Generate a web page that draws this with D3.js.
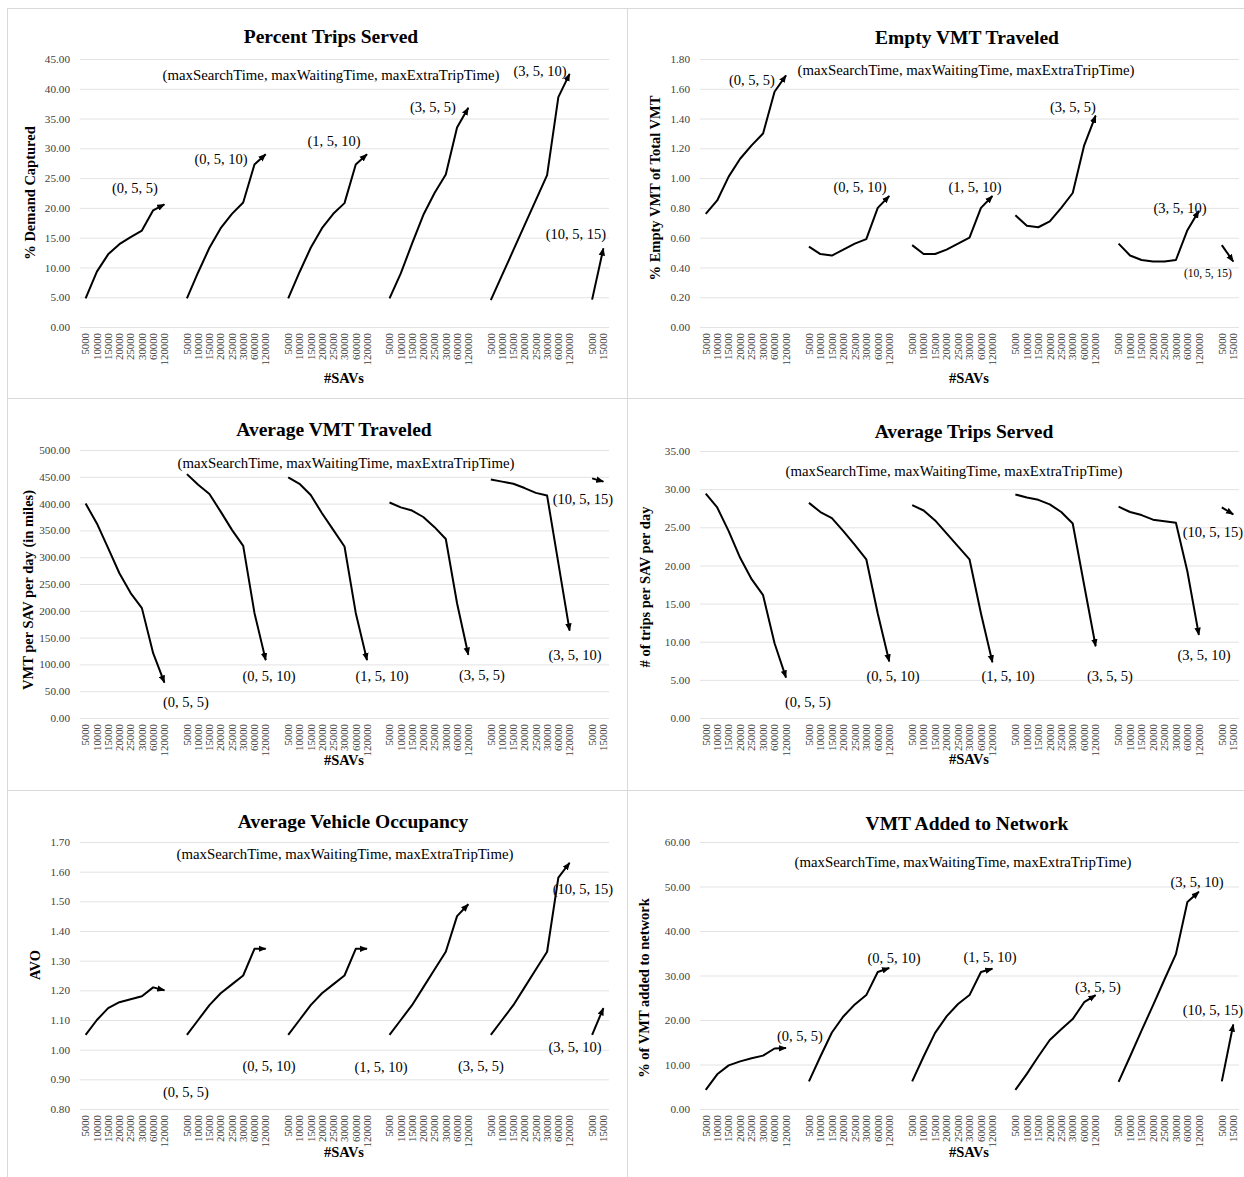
<!DOCTYPE html>
<html lang="en">
<head>
<meta charset="UTF-8" />
<title>SAV fleet results</title>
<script src="https://d3js.org/d3.v7.min.js"></script>
<style>
  body { margin: 0; background: #fff; }
  svg text { font-family: "Liberation Serif", "Times New Roman", serif; }
</style>
</head>
<body>
<svg width="1244" height="1177"></svg>
<script>
// ---- data ----
const savCounts = ["5000", "10000", "15000", "20000", "25000", "30000", "60000", "120000"];
const lastCounts = ["5000", "15000"];
const settings = ["(0, 5, 5)", "(0, 5, 10)", "(1, 5, 10)", "(3, 5, 5)", "(3, 5, 10)", "(10, 5, 15)"];

const pctTripsServed = [
  [4.8, 9.3, 12.2, 13.9, 15.1, 16.2, 19.6, 20.6],
  [4.8, 9.2, 13.3, 16.6, 19.0, 20.9, 27.3, 29.0],
  [4.8, 9.2, 13.3, 16.6, 19.0, 20.8, 27.3, 29.0],
  [4.8, 9.0, 14.0, 18.8, 22.5, 25.6, 33.5, 36.8],
  [4.5, 8.7, 12.9, 17.1, 21.3, 25.5, 38.6, 42.5],
  [4.6, 13.2]
];
const emptyVMT = [
  [0.76, 0.85, 1.01, 1.13, 1.22, 1.30, 1.58, 1.69],
  [0.54, 0.49, 0.48, 0.52, 0.56, 0.59, 0.80, 0.88],
  [0.55, 0.49, 0.49, 0.52, 0.56, 0.60, 0.80, 0.88],
  [0.75, 0.68, 0.67, 0.71, 0.80, 0.90, 1.22, 1.42],
  [0.56, 0.48, 0.45, 0.44, 0.44, 0.45, 0.65, 0.78],
  [0.55, 0.44]
];
const avgVMT = [
  [400, 363, 317, 270, 233, 205, 121, 66],
  [455, 435, 418, 385, 351, 321, 196, 108],
  [449, 437, 416, 382, 351, 320, 196, 108],
  [402, 393, 387, 375, 356, 334, 214, 118],
  [445, 441, 437, 429, 420, 415, 289, 163],
  [447, 441]
];
const avgTrips = [
  [29.4, 27.6, 24.5, 21.0, 18.2, 16.1, 9.8, 5.3],
  [28.2, 27.0, 26.2, 24.5, 22.7, 20.8, 13.7, 7.4],
  [27.9, 27.2, 25.9, 24.2, 22.5, 20.8, 13.7, 7.3],
  [29.3, 28.9, 28.6, 28.0, 27.0, 25.5, 17.4, 9.4],
  [27.7, 27.0, 26.6, 26.0, 25.8, 25.6, 19.2, 10.9],
  [27.6, 26.7]
];
const avo = [
  [1.05, 1.10, 1.14, 1.16, 1.17, 1.18, 1.21, 1.20],
  [1.05, 1.10, 1.15, 1.19, 1.22, 1.25, 1.34, 1.34],
  [1.05, 1.10, 1.15, 1.19, 1.22, 1.25, 1.34, 1.34],
  [1.05, 1.10, 1.15, 1.21, 1.27, 1.33, 1.45, 1.49],
  [1.05, 1.10, 1.15, 1.21, 1.27, 1.33, 1.58, 1.63],
  [1.05, 1.14]
];
const vmtAdded = [
  [4.3, 7.8, 9.8, 10.7, 11.4, 12.0, 13.6, 13.7],
  [6.2, 11.8, 17.2, 20.8, 23.5, 25.6, 30.8, 31.7],
  [6.2, 11.8, 17.1, 20.8, 23.6, 25.6, 30.8, 31.5],
  [4.3, 7.9, 11.8, 15.5, 17.9, 20.2, 24.0, 25.6],
  [6.1, 11.8, 17.6, 23.3, 29.1, 34.8, 46.5, 48.8],
  [6.2, 19.0]
];

const subtitle = "(maxSearchTime, maxWaitingTime, maxExtraTripTime)";

// category slots: each group of SAV counts, one blank slot between groups
let cats = [];
settings.forEach((s, g) => {
  let counts = g < 5 ? savCounts : lastCounts;
  counts.forEach(c => cats.push({ key: g + "-" + c, label: c }));
  if (g < 5) cats.push({ key: "gap" + g, label: "" });
});
let catLabel = {};
cats.forEach(c => (catLabel[c.key] = c.label));

// ---- layout ----
const panels = [
  { title: "Percent Trips Served", yTitle: "% Demand Captured", data: pctTripsServed,
    domain: [0, 45], step: 5, box: [7, 8, 620, 390], plot: [80, 609, 59, 327],
    titlePos: [331, 43], subPos: [331, 80], yTitlePos: [35, 193], xTitlePos: [344, 383],
    notes: [[0, 135, 193], [1, 221, 164], [2, 334, 146], [3, 433, 112], [4, 540, 76], [5, 576, 239]] },
  { title: "Empty VMT Traveled", yTitle: "% Empty VMT of Total VMT", data: emptyVMT,
    domain: [0, 1.8], step: 0.2, box: [627, 8, 617, 390], plot: [700, 1239, 59, 327],
    titlePos: [967, 44], subPos: [966, 75], yTitlePos: [660, 188], xTitlePos: [969, 383],
    notes: [[0, 752, 85], [1, 860, 192], [2, 975, 192], [3, 1073, 112], [4, 1180, 213], [5, 1208, 277, 11.5]] },
  { title: "Average VMT Traveled", yTitle: "VMT  per SAV per day (in miles)", data: avgVMT,
    domain: [0, 500], step: 50, box: [7, 398, 620, 392], plot: [80, 609, 450, 718],
    titlePos: [334, 436], subPos: [346, 468], yTitlePos: [33, 590], xTitlePos: [344, 765],
    notes: [[0, 186, 707], [1, 269, 681], [2, 382, 681], [3, 482, 680], [4, 575, 660], [5, 583, 504]] },
  { title: "Average Trips Served", yTitle: "# of trips per SAV per day", data: avgTrips,
    domain: [0, 35], step: 5, box: [627, 398, 617, 392], plot: [700, 1239, 451, 718],
    titlePos: [964, 438], subPos: [954, 476], yTitlePos: [650, 587], xTitlePos: [969, 764],
    notes: [[0, 808, 707], [1, 893, 681], [2, 1008, 681], [3, 1110, 681], [4, 1204, 660], [5, 1213, 537]] },
  { title: "Average Vehicle Occupancy", yTitle: "AVO", data: avo,
    domain: [0.8, 1.7], step: 0.1, box: [7, 790, 620, 387], plot: [80, 609, 842, 1109],
    titlePos: [353, 828], subPos: [345, 859], yTitlePos: [40, 965], xTitlePos: [344, 1157],
    notes: [[0, 186, 1097], [1, 269, 1071], [2, 381, 1072], [3, 481, 1071], [5, 583, 894], [4, 575, 1052]] },
  { title: "VMT Added to Network", yTitle: "% of VMT added to network", data: vmtAdded,
    domain: [0, 60], step: 10, box: [627, 790, 617, 387], plot: [700, 1239, 842, 1109],
    titlePos: [967, 830], subPos: [963, 867], yTitlePos: [649, 988], xTitlePos: [969, 1157],
    notes: [[0, 800, 1041], [1, 894, 963], [2, 990, 962], [3, 1098, 992], [4, 1197, 887], [5, 1213, 1015]] }
];

const svg = d3.select("svg");

svg.append("defs").append("marker")
  .attr("id", "arrow")
  .attr("viewBox", "0 0 10 8")
  .attr("refX", 9)
  .attr("refY", 4)
  .attr("markerUnits", "userSpaceOnUse")
  .attr("markerWidth", 8)
  .attr("markerHeight", 7)
  .attr("orient", "auto")
  .append("path")
  .attr("d", "M0,0 L10,4 L0,8 z")
  .attr("fill", "#000");

panels.forEach(p => {
  const [px0, px1, py0, py1] = p.plot;
  const x = d3.scaleBand().domain(cats.map(c => c.key)).range([px0, px1]);
  const y = d3.scaleLinear().domain(p.domain).range([py1, py0]);
  const ticks = d3.range(p.domain[0], p.domain[1] + p.step / 2, p.step);
  const g = svg.append("g");

  g.append("rect")
    .attr("x", p.box[0] + 0.5).attr("y", p.box[1] + 0.5)
    .attr("width", p.box[2]).attr("height", p.box[3])
    .attr("fill", "none").attr("stroke", "#d9d9d9");

  // y axis + gridlines
  const ya = g.append("g")
    .attr("transform", "translate(" + px0 + ",0)")
    .call(d3.axisLeft(y).tickValues(ticks).tickSize(-(px1 - px0)).tickPadding(10).tickFormat(d3.format(".2f")));
  ya.select(".domain").remove();
  ya.selectAll("line").attr("stroke", "#e3e3e3");
  ya.selectAll("text")
    .attr("font-family", "Liberation Serif").attr("font-size", 11.2).attr("fill", "#404040");

  // x axis, rotated labels
  const xa = g.append("g")
    .attr("transform", "translate(0," + py1 + ")")
    .call(d3.axisBottom(x).tickSize(0).tickFormat(k => catLabel[k]));
  xa.select(".domain").remove();
  xa.selectAll("text")
    .attr("font-family", "Liberation Serif").attr("font-size", 10.8).attr("fill", "#404040")
    .attr("transform", "rotate(-90)")
    .attr("text-anchor", "end")
    .attr("x", -6).attr("y", 0).attr("dy", "0.35em");

  // series lines
  const line = d3.line().x(d => d[0]).y(d => d[1]);
  p.data.forEach((vals, gi) => {
    const counts = gi < 5 ? savCounts : lastCounts;
    const pts = vals.map((v, i) => [x(gi + "-" + counts[i]) + x.bandwidth() / 2, y(v)]);
    g.append("path")
      .attr("d", line(pts))
      .attr("fill", "none")
      .attr("stroke", "#000")
      .attr("stroke-width", 2)
      .attr("stroke-linejoin", "round")
      .attr("marker-end", "url(#arrow)");
  });

  g.append("text")
    .attr("x", p.titlePos[0]).attr("y", p.titlePos[1])
    .attr("text-anchor", "middle").attr("font-size", 19.5).attr("font-weight", "bold")
    .text(p.title);

  g.append("text")
    .attr("x", p.subPos[0]).attr("y", p.subPos[1])
    .attr("text-anchor", "middle").attr("font-size", 14.8)
    .text(subtitle);

  g.append("text")
    .attr("transform", "translate(" + p.yTitlePos[0] + "," + p.yTitlePos[1] + ") rotate(-90)")
    .attr("text-anchor", "middle").attr("font-size", 14.5).attr("font-weight", "bold")
    .text(p.yTitle);

  g.append("text")
    .attr("x", p.xTitlePos[0]).attr("y", p.xTitlePos[1])
    .attr("text-anchor", "middle").attr("font-size", 14.5).attr("font-weight", "bold")
    .text("#SAVs");

  p.notes.forEach(n => {
    g.append("text")
      .attr("x", n[1]).attr("y", n[2])
      .attr("text-anchor", "middle")
      .attr("font-size", n[3] || 14.5)
      .text(settings[n[0]]);
  });
});
</script>
</body>
</html>
